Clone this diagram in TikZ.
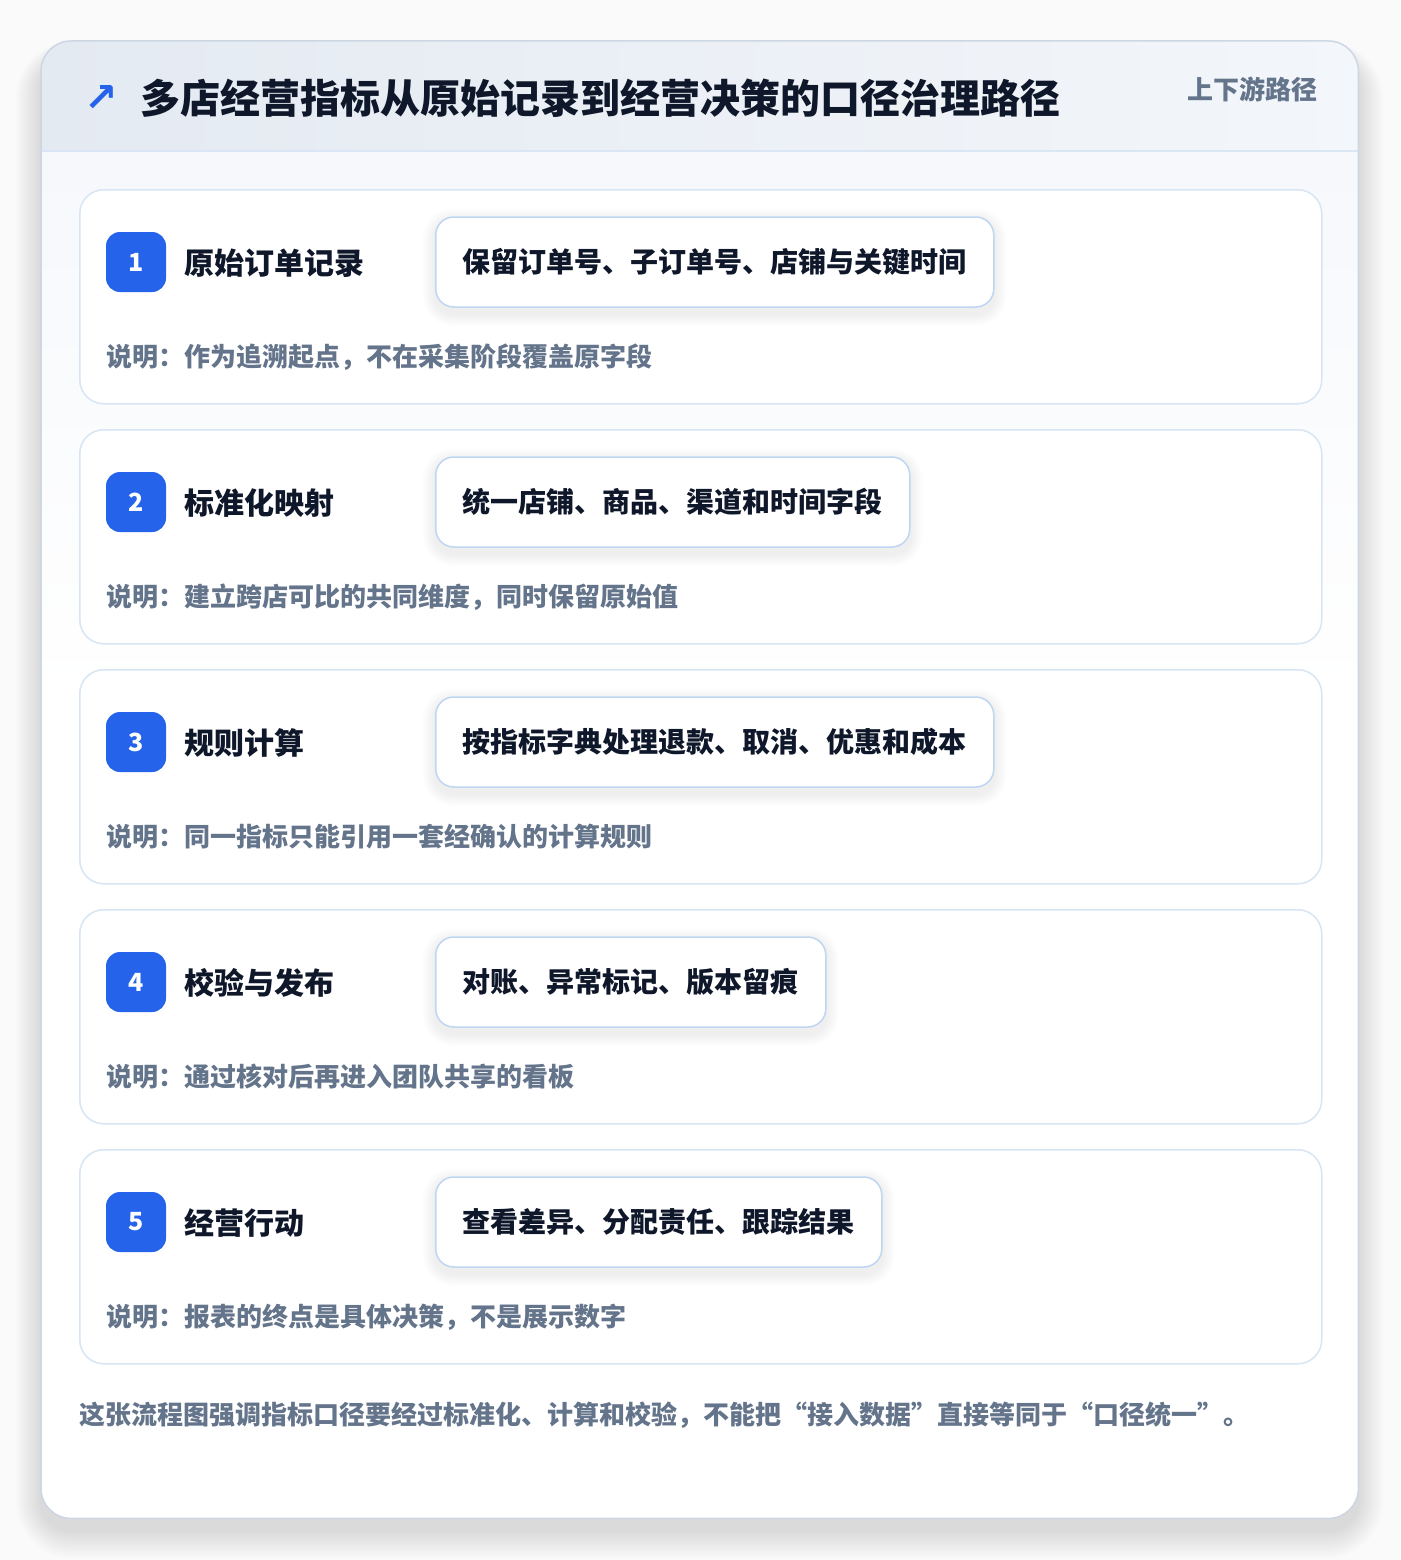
\documentclass[tikz,border=0pt]{standalone}
\usepackage{fontspec}
\setmainfont{Noto Sans CJK SC}
\newfontfamily\symfont{DejaVu Sans}
\definecolor{pagebg}{HTML}{FAFAFB}
\definecolor{frameline}{HTML}{CDD6E3}
\definecolor{headL}{HTML}{E4EAF2}
\definecolor{headR}{HTML}{F3F6FA}
\definecolor{headline}{HTML}{DAE6F5}
\definecolor{cardline}{HTML}{D8E5F5}
\definecolor{pillline}{HTML}{BFD6F2}
\definecolor{accent}{HTML}{2563EB}
\definecolor{ink}{HTML}{0F172A}
\definecolor{muted}{HTML}{64748B}
\definecolor{bodytop}{HTML}{F6F8FC}
\pgfdeclarelayer{base}
\pgfdeclarelayer{cards}
\pgfdeclarelayer{pshadow}
\pgfsetlayers{base,cards,pshadow,main}
\tikzset{
  card/.style={draw=cardline, line width=1.5, rounded corners=24, fill=white, anchor=north west,
    minimum width=1242, minimum height=214, inner sep=0},
  badge/.style={fill=accent, rounded corners=14, minimum width=60, minimum height=60, inner sep=0,
    text=white, font=\fontsize{25}{28}\selectfont\bfseries},
  steptitle/.style={anchor=west, inner sep=0, text=ink, font=\fontsize{30}{36}\selectfont\bfseries},
  pill/.style={anchor=west, draw=pillline, line width=1.5, rounded corners=18, fill=white,
    minimum height=90, inner xsep=27, inner ysep=0, text=ink, font=\fontsize{28}{34}\selectfont\bfseries},
  desc/.style={anchor=west, inner sep=0, text=muted, font=\fontsize{26}{32}\selectfont\bfseries},
}
\begin{document}
\begin{tikzpicture}[x=1pt, y=-1pt]
\useasboundingbox (0,0) rectangle (1400,1560);
\begin{pgfonlayer}{base}
\fill[pagebg] (0,0) rectangle (1400,1560);
% soft outer shadow (mostly below the frame)
\foreach \k in {1,...,16}{
  \fill[black, opacity=0.006, rounded corners={30+1.8*\k}]
    ({41-1.6*\k},{60-1.2*\k}) rectangle ({1358+1.6*\k},{1530+1.8*\k});
}
% outer frame
\node[fill=white, rounded corners=30, anchor=north west, minimum width=1317, minimum height=1477, inner sep=0] (frame) at (41,41) {};
\begin{scope}
  \clip[rounded corners=30] (41,41) rectangle (1358,1518);
  \shade[left color=headL, right color=headR] (41,41) rectangle (1358,151);
  \shade[top color=bodytop, bottom color=white] (41,151) rectangle (1358,700);
\end{scope}
\draw[headline, line width=1.5] (frame.north west |- 0,151) -- (frame.north east |- 0,151);
\draw[frameline, line width=1.5, rounded corners=30] (frame.north west) rectangle (frame.south east);
\end{pgfonlayer}
% header
\node[text=accent, inner sep=0, font=\symfont\fontsize{40}{44}\selectfont\bfseries] (icon) at (101,99) {↗};
\node[anchor=west, inner sep=0, text=ink, font=\fontsize{40}{48}\selectfont\bfseries] (title) at (140,98)
  {多店经营指标从原始记录到经营决策的口径治理路径};
\node[anchor=east, inner sep=0, text=muted, font=\fontsize{26}{32}\selectfont\bfseries] (tag) at (1318,89) {上下游路径};
% steps
\foreach \i/\t/\p/\d in {
  1/原始订单记录/保留订单号、子订单号、店铺与关键时间/说明：作为追溯起点，不在采集阶段覆盖原字段,
  2/标准化映射/统一店铺、商品、渠道和时间字段/说明：建立跨店可比的共同维度，同时保留原始值,
  3/规则计算/按指标字典处理退款、取消、优惠和成本/说明：同一指标只能引用一套经确认的计算规则,
  4/校验与发布/对账、异常标记、版本留痕/说明：通过核对后再进入团队共享的看板,
  5/经营行动/查看差异、分配责任、跟踪结果/说明：报表的终点是具体决策，不是展示数字}{
  \pgfmathsetmacro{\top}{189+(\i-1)*240}
  \begin{pgfonlayer}{cards}
    \node[card] (card\i) at (79,\top) {};
  \end{pgfonlayer}
  \node[badge] (badge\i) at (136,\top+73) {\i};
  \node[steptitle] (name\i) at (184,\top+74) {\t};
  \node[pill] (pill\i) at (435,\top+73) {\p};
  \node[desc] (desc\i) at (106,\top+168) {\d};
  \begin{pgfonlayer}{pshadow}
    \foreach \k in {1,...,8}{
      \fill[black, opacity=0.008, rounded corners={18+1.5*\k}]
        ([xshift={-1.5*\k}, yshift={-4+1.5*\k}]pill\i.north west) rectangle
        ([xshift={1.5*\k}, yshift={-6-1.5*\k}]pill\i.south east);
    }
  \end{pgfonlayer}
}
% footer
\node[anchor=west, inner sep=0, text=muted, font=\fontsize{26}{32}\selectfont\bfseries] (note) at (79,1415)
  {这张流程图强调指标口径要经过标准化、计算和校验，不能把“接入数据”直接等同于“口径统一”。};
\end{tikzpicture}
\end{document}
